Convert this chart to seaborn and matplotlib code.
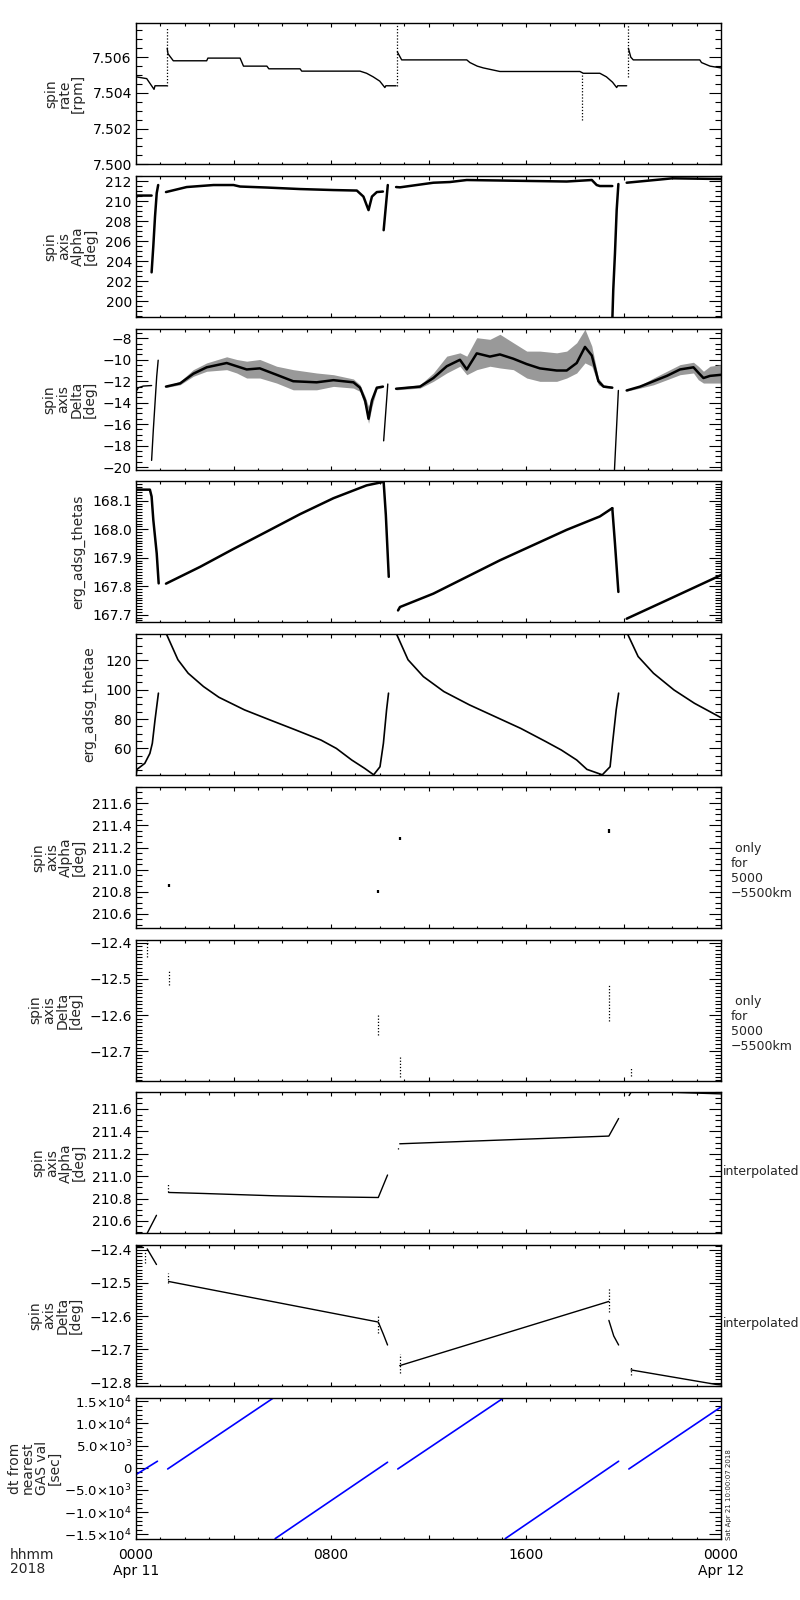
import numpy as np
import pandas as pd
import matplotlib
matplotlib.use('Agg')
import matplotlib.pyplot as plt
import seaborn as sns
from matplotlib.ticker import MultipleLocator, FuncFormatter

nan = np.nan
MINUS = '\u2212'

# ---------------- data (hours since 2018-04-11 00:00) ----------------
# spin rate [rpm]
rate_h = [0, 0.44, 0.74, 0.78, 1.26, nan,
          1.28, 1.31, 1.53, 2.9, 2.95, 4.27, 4.41, 5.37, 5.45, 6.73, 6.8, 9.19, 9.46, 9.73, 10.0, 10.21, 10.25, 10.67, nan,
          10.72, 10.9, 13.57, 13.7, 14.0, 14.25, 14.93, 18.21, 18.35, 19.03, 19.3, 19.55, 19.72, 19.76, 20.13, nan,
          20.2, 20.3, 20.4, 23.13, 23.2, 23.55, 24.0]
rate_v = [7.5049, 7.5048, 7.5042, 7.5044, 7.5044, nan,
          7.5065, 7.5062, 7.5058, 7.5058, 7.50595, 7.50595, 7.5055, 7.5055, 7.50535, 7.50535, 7.50522, 7.50522,
          7.5051, 7.5049, 7.50466, 7.5043, 7.5044, 7.5044, nan,
          7.5063, 7.50585, 7.50585, 7.5057, 7.5055, 7.5054, 7.5052, 7.5052, 7.5051, 7.5051, 7.5049, 7.5046,
          7.5043, 7.5044, 7.5044, nan,
          7.5065, 7.5060, 7.50585, 7.50585, 7.5057, 7.5055, 7.5054]
rate_spike_h = [1.26, 10.69, 18.3, 20.17]
rate_spike_lo = [7.5044, 7.5044, 7.5025, 7.5049]
rate_spike_hi = [7.5077, 7.5078, 7.5051, 7.5078]

# spin axis Alpha [deg]
alpha_h = [0, 0.05, 0.64, nan,
           0.64, 0.71, 0.78, 0.85, 0.91, nan,
           1.23, 2.08, 3.18, 4.0, 4.27, 5.37, 6.73, 8.1, 9.06, 9.33, 9.54, 9.68, 9.88, 10.13, nan,
           10.16, 10.33, nan,
           10.67, 10.83, 12.2, 12.88, 13.57, 14.93, 16.3, 17.67, 18.7, 18.9, 19.03, 19.54, nan,
           19.54, 19.58, 19.65, 19.72, 19.79, nan,
           20.13, 21.5, 22.0, 24.0]
alpha_v = [210.35, 210.55, 210.55, nan,
           202.9, 205.5, 208.45, 210.8, 211.6, nan,
           210.9, 211.4, 211.6, 211.6, 211.45, 211.35, 211.2, 211.1, 211.05, 210.45, 209.1, 210.45, 210.9, 210.95, nan,
           207.1, 211.6, nan,
           211.4, 211.37, 211.83, 211.9, 212.1, 212.05, 212.0, 211.95, 212.1, 211.6, 211.5, 211.5, nan,
           198.0, 201.15, 204.8, 209.1, 211.7, nan,
           211.83, 212.15, 212.27, 212.2]

# spin axis Delta [deg]: thin lines plus scattered bands (upper, lower, dense core)
delta_h = [0, 0.1, 0.3, 0.64, nan,
           0.64, 0.71, 0.78, 0.85, 0.91, nan,
           10.16, 10.33, nan,
           19.63, 19.79]
delta_v = [-12.95, -12.6, -12.45, -12.4, nan,
           -19.38, -16.56, -14.05, -11.54, -10.04, nan,
           -17.56, -12.26, nan,
           -20.25, -12.86]
band1_h = [1.23, 1.81, 2.35, 2.9, 3.72, 4.13, 4.54, 5.08, 5.77, 6.45, 7.41, 8.1, 8.92, 9.19, 9.4, 9.54, 9.68, 9.88, 10.13]
band1_up = [-12.42, -12.01, -10.92, -10.29, -9.72, -9.97, -10.13, -9.97, -10.6, -10.92, -11.23, -11.39, -11.79,
            -12.33, -13.42, -14.36, -13.42, -12.48, -12.39]
band1_lo = [-12.58, -12.33, -11.54, -11.07, -10.92, -11.23, -11.7, -11.7, -12.17, -12.8, -12.8, -12.48, -12.64,
            -12.95, -14.36, -15.93, -14.36, -12.73, -12.58]
band1_core = [-12.5, -12.2, -11.3, -10.7, -10.3, -10.6, -10.9, -10.8, -11.4, -12.0, -12.1, -11.9, -12.1,
              -12.6, -13.8, -15.5, -13.8, -12.6, -12.5]
band2_h = [10.67, 11.65, 12.2, 12.75, 13.29, 13.57, 13.98, 14.52, 14.93, 15.48, 16.03, 16.57, 17.26, 17.67,
           18.08, 18.42, 18.7, 18.97, 19.18, 19.54]
band2_up = [-12.58, -12.33, -11.23, -9.66, -9.35, -9.66, -7.94, -8.09, -7.62, -8.41, -9.19, -9.19, -9.35, -9.19,
            -8.41, -7.15, -8.72, -11.7, -12.33, -12.48]
band2_lo = [-12.8, -12.64, -12.01, -11.23, -10.6, -11.39, -10.92, -10.6, -10.76, -10.92, -11.7, -12.01, -12.01,
            -11.7, -11.23, -10.29, -10.6, -12.33, -12.58, -12.67]
band2_core = [-12.7, -12.5, -11.7, -10.6, -10.0, -10.9, -9.4, -9.7, -9.5, -9.9, -10.4, -10.8, -11.0, -11.0,
              -10.3, -8.8, -9.6, -12.0, -12.5, -12.6]
band3_h = [20.13, 20.68, 21.23, 21.78, 22.32, 22.87, 23.07, 23.28, 23.55, 24.0]
band3_up = [-12.8, -12.39, -11.7, -11.07, -10.45, -10.23, -10.6, -11.07, -10.6, -10.45]
band3_lo = [-12.92, -12.64, -12.33, -11.86, -11.39, -11.23, -11.86, -12.17, -12.17, -12.17]
band3_core = [-12.86, -12.5, -12.0, -11.5, -10.9, -10.7, -11.2, -11.7, -11.5, -11.4]

# erg_adsg_thetas
thetas_h = [0, 0.57, 0.64, 0.71, 0.85, 0.93, nan,
            1.23, 2.63, 4.0, 5.37, 6.73, 8.1, 9.46, 10.13, nan,
            10.16, 10.25, 10.37, nan,
            10.75, 10.83, 12.2, 14.93, 17.67, 19.03, 19.54, nan,
            19.54, 19.65, 19.79, nan,
            20.13, 21.78, 24.0]
thetas_v = [168.139, 168.139, 168.115, 168.033, 167.915, 167.81, nan,
            167.809, 167.868, 167.931, 167.992, 168.053, 168.109, 168.154, 168.166, nan,
            168.166, 168.05, 167.833, nan,
            167.715, 167.727, 167.774, 167.891, 167.998, 168.045, 168.074, nan,
            168.074, 167.95, 167.78, nan,
            167.686, 167.751, 167.839]

# erg_adsg_thetae
thetae_h = [0.0, 0.04, 0.36, 0.57, 0.67, 0.78, 0.92, nan,
            1.26, 1.72, 2.14, 2.77, 3.40, 4.45, 5.50, 6.55, 7.59, 8.22, 8.85, 9.38, 9.75,
            10.01, 10.15, 10.28, 10.36, nan,
            10.70, 11.16, 11.79, 12.63, 13.68, 14.73, 15.78, 16.82, 17.45, 18.08, 18.50, 19.13,
            19.45, 19.55, 19.70, 19.80, nan,
            20.18, 20.60, 21.23, 22.07, 22.91, 24.0]
thetae_v = [41.8, 45.7, 49.8, 56.6, 63.5, 79.4, 97.7, nan,
            137.6, 120.5, 111.3, 102.2, 94.9, 86.3, 79.4, 72.6, 65.7, 60.0, 52.1, 46.4, 42.0,
            47.5, 63.5, 86.3, 97.7, nan,
            137.6, 120.5, 109.0, 98.8, 89.7, 81.7, 73.7, 64.6, 58.9, 52.1, 45.7, 42.0,
            47.5, 63.5, 86.3, 97.7, nan,
            137.6, 122.7, 111.3, 99.9, 90.8, 81.0]

# spin axis only for 5000-5500 km (short marks)
only_a_h = [1.34, 9.94, 10.82, 19.40]
only_a_lo = [210.842, 210.787, 211.268, 211.334]
only_a_hi = [210.866, 210.812, 211.298, 211.37]
only_d_h = [0.46, 1.34, 9.94, 10.82, 19.40, 20.31]
only_d_lo = [-12.44, -12.517, -12.656, -12.77, -12.616, -12.769]
only_d_hi = [-12.396, -12.474, -12.598, -12.713, -12.517, -12.743]

# interpolated Alpha
ialpha_h = [0, 0.25, nan, 0.46, 0.84, nan, 1.34, 2.77, 5.71, 7.80, 9.94, 10.32, nan,
            10.82, 19.40, 19.80, nan, 20.23, 20.31, 21.85, 24.0]
ialpha_v = [210.49, 210.49, nan, 210.49, 210.65, nan, 210.854, 210.845, 210.824, 210.815, 210.809, 211.01, nan,
            211.289, 211.358, 211.515, nan, 211.72, 211.75, 211.75, 211.735]
ialpha_mk_h = [1.30, 10.74]
ialpha_mk_lo = [210.86, 211.24]
ialpha_mk_hi = [210.93, 211.27]

# interpolated Delta
idelta_h = [0, 0.3, nan, 0.46, 0.84, nan, 1.34, 9.94, 10.15, 10.32, nan,
            10.82, 19.40, nan, 19.40, 19.6, 19.80, nan, 20.31, 23.75, 24.0]
idelta_v = [-12.392, -12.392, nan, -12.398, -12.445, nan, -12.496, -12.618, -12.655, -12.687, nan,
            -12.749, -12.556, nan, -12.613, -12.66, -12.687, nan, -12.762, -12.805, -12.807]
idelta_mk_h = [0.36, 1.30, 9.94, 10.82, 19.40, 20.31]
idelta_mk_lo = [-12.44, -12.50, -12.652, -12.77, -12.588, -12.777]
idelta_mk_hi = [-12.40, -12.47, -12.598, -12.715, -12.517, -12.752]

# dt from nearest GAS val [sec]
dt_h = [0.04, 0.88, nan, 1.30, 5.66, nan, 5.71, 10.32, nan, 10.74, 15.10, nan, 15.15, 19.80, nan, 20.22, 24.0]
dt_v = [-1398, 1483, nan, -264, 15840, nan, -15975, 1256, nan, -264, 15840, nan, -15975, 1483, nan, -264, 13730]

# ---------------- style ----------------
sns.set_style('ticks')
plt.rcParams['font.family'] = ['DejaVu Sans']
plt.rcParams['axes.edgecolor'] = 'black'
plt.rcParams['axes.linewidth'] = 1.0
plt.rcParams['xtick.color'] = 'black'
plt.rcParams['ytick.color'] = 'black'


def seg_frame(h, v):
    df = pd.DataFrame({'h': h, 'v': v})
    df['seg'] = df['v'].isna().cumsum()
    return df.dropna()


def draw(ax, h, v, color='black', lw=1.0):
    sns.lineplot(data=seg_frame(h, v), x='h', y='v', units='seg', estimator=None, sort=False,
                 color=color, lw=lw, ax=ax, legend=False)


def minus_fmt(fmt):
    return FuncFormatter(lambda x, pos: (fmt % x).replace('-', MINUS))


def dt_fmt(x, pos):
    if abs(x) < 1:
        return '0'
    e = int(np.floor(np.log10(abs(x)) + 1e-9))
    m = abs(x) / 10 ** e
    sign = MINUS if x < 0 else ''
    return sign + '%.1f\u00d710$^{%d}$' % (m, e)


def x_fmt(x, pos):
    labels = {0: '0000\nApr 11', 8: '0800', 16: '1600', 24: '0000\nApr 12'}
    return labels.get(int(round(x)), '') if abs(x - round(x)) < 1e-6 else ''


fig = plt.figure(figsize=(8, 16), dpi=100)

top0, step, hgt = 23.3, 152.7, 141.0
axes = []
for k in range(10):
    top = top0 + step * k
    ax = fig.add_axes([136 / 800, 1 - (top + hgt) / 1600, 585 / 800, hgt / 1600])
    axes.append(ax)

# right edge (pixels) of each y label, as placed in the original
label_right = [85, 98, 97, 85, 96, 86, 83, 86, 83, 62]

# Panel 1: spin rate
ax = axes[0]
draw(ax, rate_h, rate_v, lw=1.0)
ax.vlines(rate_spike_h, rate_spike_lo, rate_spike_hi, colors='black', lw=0.9, linestyles=(0, (1, 1.5)))
ax.set_ylim(7.500, 7.5079)
ax.yaxis.set_major_locator(MultipleLocator(0.002))
ax.yaxis.set_minor_locator(MultipleLocator(0.0005))
ax.yaxis.set_major_formatter(minus_fmt('%.3f'))
ax.set_ylabel('spin\nrate\n[rpm]')

# Panel 2: spin axis Alpha
ax = axes[1]
draw(ax, alpha_h, alpha_v, lw=1.8)
ax.set_ylim(198.45, 212.5)
ax.yaxis.set_major_locator(MultipleLocator(2))
ax.yaxis.set_minor_locator(MultipleLocator(0.5))
ax.yaxis.set_major_formatter(minus_fmt('%d'))
ax.set_ylabel('spin\naxis\nAlpha\n[deg]')

# Panel 3: spin axis Delta
ax = axes[2]
for bh, bu, bl, bc in [(band1_h, band1_up, band1_lo, band1_core),
                       (band2_h, band2_up, band2_lo, band2_core),
                       (band3_h, band3_up, band3_lo, band3_core)]:
    ax.fill_between(bh, bl, bu, color='0.6', lw=0)
    draw(ax, bh, bc, lw=1.8)
draw(ax, delta_h, delta_v, lw=1.0)
ax.set_ylim(-20.25, -7.1)
ax.yaxis.set_major_locator(MultipleLocator(2))
ax.yaxis.set_minor_locator(MultipleLocator(0.5))
ax.yaxis.set_major_formatter(minus_fmt('%d'))
ax.set_ylabel('spin\naxis\nDelta\n[deg]')

# Panel 4: thetas
ax = axes[3]
draw(ax, thetas_h, thetas_v, lw=1.8)
ax.set_ylim(167.673, 168.168)
ax.yaxis.set_major_locator(MultipleLocator(0.1))
ax.yaxis.set_minor_locator(MultipleLocator(0.01))
ax.yaxis.set_major_formatter(minus_fmt('%.1f'))
ax.set_ylabel('erg_adsg_thetas')

# Panel 5: thetae
ax = axes[4]
draw(ax, thetae_h, thetae_v, lw=1.2)
ax.set_ylim(41.8, 138)
ax.yaxis.set_major_locator(MultipleLocator(20))
ax.yaxis.set_minor_locator(MultipleLocator(5))
ax.yaxis.set_major_formatter(minus_fmt('%d'))
ax.set_ylabel('erg_adsg_thetae')

# Panel 6: Alpha only for 5000-5500km
ax = axes[5]
ax.vlines(only_a_h, only_a_lo, only_a_hi, colors='black', lw=1.6)
ax.set_ylim(210.473, 211.75)
ax.yaxis.set_major_locator(MultipleLocator(0.2))
ax.yaxis.set_minor_locator(MultipleLocator(0.05))
ax.yaxis.set_major_formatter(minus_fmt('%.1f'))
ax.set_ylabel('spin\naxis\nAlpha\n[deg]')
ax.text(1.017, 0.40, ' only\nfor\n5000\n\u22125500km', transform=ax.transAxes,
        ha='left', va='center', fontsize=9)

# Panel 7: Delta only for 5000-5500km
ax = axes[6]
ax.vlines(only_d_h, only_d_lo, only_d_hi, colors='black', lw=0.9, linestyles=(0, (1, 1.5)))
ax.set_ylim(-12.781, -12.391)
ax.yaxis.set_major_locator(MultipleLocator(0.1))
ax.yaxis.set_minor_locator(MultipleLocator(0.01))
ax.yaxis.set_major_formatter(minus_fmt('%.1f'))
ax.set_ylabel('spin\naxis\nDelta\n[deg]')
ax.text(1.017, 0.40, ' only\nfor\n5000\n\u22125500km', transform=ax.transAxes,
        ha='left', va='center', fontsize=9)

# Panel 8: interpolated Alpha
ax = axes[7]
draw(ax, ialpha_h, ialpha_v, lw=1.0)
ax.vlines(ialpha_mk_h, ialpha_mk_lo, ialpha_mk_hi, colors='black', lw=0.9, linestyles=(0, (1, 1.5)))
ax.set_ylim(210.49, 211.75)
ax.yaxis.set_major_locator(MultipleLocator(0.2))
ax.yaxis.set_minor_locator(MultipleLocator(0.05))
ax.yaxis.set_major_formatter(minus_fmt('%.1f'))
ax.set_ylabel('spin\naxis\nAlpha\n[deg]')
ax.text(1.004, 0.44, 'interpolated', transform=ax.transAxes, ha='left', va='center', fontsize=9)

# Panel 9: interpolated Delta
ax = axes[8]
draw(ax, idelta_h, idelta_v, lw=1.0)
ax.vlines(idelta_mk_h, idelta_mk_lo, idelta_mk_hi, colors='black', lw=0.9, linestyles=(0, (1, 1.5)))
ax.set_ylim(-12.81, -12.386)
ax.yaxis.set_major_locator(MultipleLocator(0.1))
ax.yaxis.set_minor_locator(MultipleLocator(0.01))
ax.yaxis.set_major_formatter(minus_fmt('%.1f'))
ax.set_ylabel('spin\naxis\nDelta\n[deg]')
ax.text(1.004, 0.44, 'interpolated', transform=ax.transAxes, ha='left', va='center', fontsize=9)

# Panel 10: dt from nearest GAS value
ax = axes[9]
draw(ax, dt_h, dt_v, color='#0000ff', lw=1.2)
ax.set_ylim(-15975, 15840)
ax.yaxis.set_major_locator(MultipleLocator(5000))
ax.yaxis.set_minor_locator(MultipleLocator(1000))
ax.yaxis.set_major_formatter(FuncFormatter(dt_fmt))
ax.set_ylabel('dt from\nnearest\nGAS val\n[sec]')

# Common axis styling (IDL-like inward ticks on all sides)
for i, ax in enumerate(axes):
    ax.set_xlim(0, 24)
    ax.set_xlabel('')
    ax.xaxis.set_major_locator(MultipleLocator(4))
    ax.xaxis.set_minor_locator(MultipleLocator(1))
    ax.xaxis.set_major_formatter(FuncFormatter(x_fmt))
    ax.tick_params(which='both', direction='in', top=True, right=True, width=0.8)
    ax.tick_params(axis='y', which='major', length=8.5, pad=3, labelsize=10)
    ax.tick_params(axis='y', which='minor', length=4.3)
    ax.tick_params(axis='x', which='major', length=3.2, pad=6.5, labelsize=10)
    ax.tick_params(axis='x', which='minor', length=1.8)
    ax.tick_params(axis='x', labelbottom=(i == 9))
    ax.yaxis.label.set_size(10)
    ax.yaxis.label.set_linespacing(0.95)
    ax.yaxis.label.set_multialignment('center')
    ax.yaxis.set_label_coords((label_right[i] - 136) / 585, 0.5)
    for sp in ax.spines.values():
        sp.set_linewidth(1.0)
        sp.set_visible(True)
axes[9].tick_params(axis='y', which='major', labelsize=9.5)

fig.text(10 / 800, 1 - 1548 / 1600, 'hhmm\n2018', ha='left', va='top', fontsize=10, linespacing=1.0)
fig.text(726 / 800, 1 - 1540 / 1600, 'Sat Apr 21 10:00:07 2018', rotation=90,
         ha='left', va='bottom', fontsize=5)

fig.savefig('out.png', dpi=100)
